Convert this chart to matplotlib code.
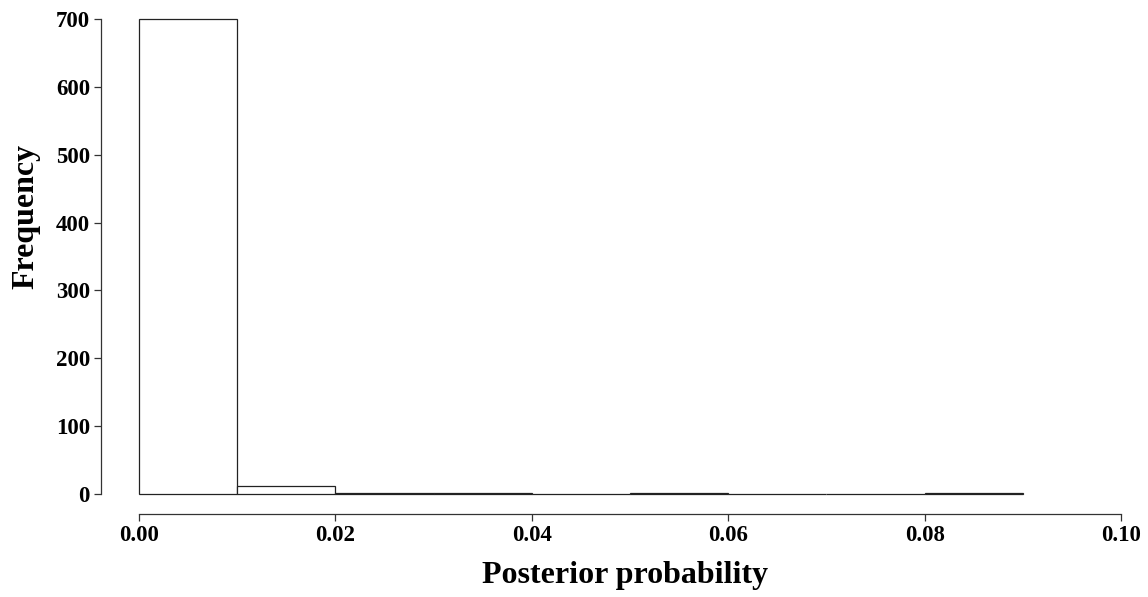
import matplotlib
matplotlib.use("Agg")
import matplotlib.pyplot as plt
import numpy as np

bin_edges = [0.00, 0.01, 0.02, 0.03, 0.04, 0.05, 0.06, 0.07, 0.08, 0.09]
counts = [700, 12, 2, 2, 0, 1, 0, 0, 1]
x_ticks = [0.00, 0.02, 0.04, 0.06, 0.08, 0.10]
x_tick_labels = ["0.00", "0.02", "0.04", "0.06", "0.08", "0.10"]
y_ticks = [0, 100, 200, 300, 400, 500, 600, 700]

plt.rcParams['font.family'] = ['Liberation Serif', 'DejaVu Serif']
plt.rcParams['font.weight'] = 'bold'

W, H = 1148, 597
fig = plt.figure(figsize=(W / 100, H / 100), dpi=100)
ax = fig.add_axes([139 / W, (H - 494) / H, (1121 - 139) / W, 475 / H])

lefts = np.array(bin_edges[:-1])
widths = np.diff(bin_edges)
bars = ax.bar(lefts, counts, width=widths, align='edge', facecolor='white',
              edgecolor='#222222', linewidth=0.9)
for b in bars:
    b.set_clip_on(False)

ax.set_xlim(0, 0.10)
ax.set_ylim(0, 700)
for s in ['top', 'right']:
    ax.spines[s].set_visible(False)
ax.spines['left'].set_position(('outward', 38 * 0.72))
ax.spines['bottom'].set_position(('outward', 20 * 0.72))
ax.spines['left'].set_bounds(0, 700)
ax.spines['bottom'].set_bounds(0, 0.10)
for s in ['left', 'bottom']:
    ax.spines[s].set_linewidth(0.9)
    ax.spines[s].set_color('#333333')

ax.set_xticks(x_ticks)
ax.set_xticklabels(x_tick_labels)
ax.set_yticks(y_ticks)
ax.tick_params(axis='both', length=5, width=0.9, color='#333333',
               labelsize=16.5, pad=3)
for lab in ax.get_xticklabels() + ax.get_yticklabels():
    lab.set_fontweight('bold')

fig.text(625 / W, 1 - 576 / H, "Posterior probability", fontsize=23,
         fontweight='bold', ha='center', va='center')
fig.text(26 / W, 1 - 216 / H, "Frequency", fontsize=23, fontweight='bold',
         ha='center', va='center', rotation=90)

fig.savefig("out.png", dpi=100)
